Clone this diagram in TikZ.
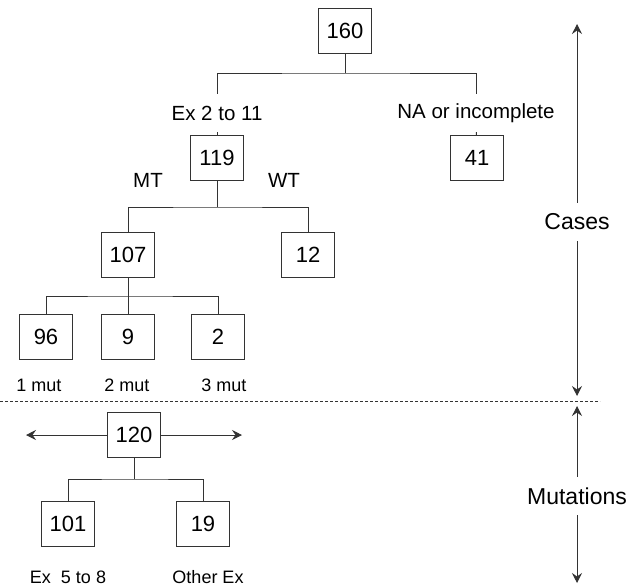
\documentclass[tikz,border=0pt]{standalone}
\usepackage{fontspec}
\setmainfont{Liberation Sans}
\usetikzlibrary{arrows.meta}

\tikzset{
    box/.style={draw=black!80, line width=1pt, minimum width=53pt, minimum height=45pt, inner sep=0pt, font=\fontsize{22}{26}\selectfont},
    lbl/.style={inner sep=0pt, minimum height=38pt, font=\fontsize{20.5}{24}\selectfont},
    side/.style={lbl, font=\fontsize{23}{27}\selectfont},
    small/.style={inner sep=0pt, font=\fontsize{18}{21}\selectfont},
    conn/.style={draw=black!80, line width=1pt},
    arr/.style={conn, -{Stealth[length=10pt, width=10pt, inset=3.5pt]}}
}

\begin{document}
\begin{tikzpicture}[x=1pt, y=-1pt]
        \useasboundingbox (0, 0) rectangle (636, 586);

        \node[box] at (345, 31)    (160) {160};
        \node[lbl] at (217, 113)   (ex)  {Ex 2 to 11};
        \node[lbl] at (476, 113)   (na)  {NA or incomplete};
        \node[box] at (217, 158)   (119) {119};
        \node[box] at (477, 158)   (41)  {41};
        \node[lbl] at (148, 180)   (mt)  {MT};
        \node[lbl] at (284, 180)   (wt)  {WT};
        \node[box] at (128, 255)   (107) {107};
        \node[box] at (308, 255)   (12)  {12};
        \node[box] at (46, 337)    (96)  {96};
        \node[box] at (128, 337)   (9)   {9};
        \node[box] at (218, 337)   (2)   {2};
        \node[small] at (39, 385)  (m1)  {1 mut};
        \node[small] at (127, 385) (m2)  {2 mut};
        \node[small] at (224, 385) (m3)  {3 mut};
        \node[box] at (134, 435)   (120) {120};
        \node[box] at (68, 524)    (101) {101};
        \node[box] at (203, 524)   (19)  {19};
        \node[small] at (68, 577)  (ex58)  {Ex\ \ 5 to 8};
        \node[small] at (208, 577) (other) {Other Ex};
        \node[side] at (577, 222)  (cases) {Cases};
        \node[side] at (577, 496)  (muts)  {Mutations};

        \coordinate (b1) at (345, 73);
        \coordinate (b2) at (217, 207);
        \coordinate (b3) at (128, 296);
        \coordinate (b4) at (134, 479);
        \coordinate (left)  at (26, 435);
        \coordinate (right) at (242, 435);
        \coordinate (top)   at (577, 24);
        \coordinate (midup) at (577, 396);
        \coordinate (middn) at (577, 406);
        \coordinate (bot)   at (577, 583);
        \coordinate (dl) at (0, 401);
        \coordinate (dr) at (600, 401);

        \draw[conn] (160) -- (b1);
        \draw[conn] (ex) |- (b1) -| (na);
        \draw[conn] (ex) -- (119);
        \draw[conn] (na) -- (41);
        \draw[conn] (119) -- (b2);
        \draw[conn] (107) |- (b2) -| (12);
        \draw[conn] (107) -- (b3);
        \draw[conn] (96) |- (b3) -| (2);
        \draw[conn] (b3) -- (9);
        \draw[conn] (120) -- (b4);
        \draw[conn] (101) |- (b4) -| (19);
        \draw[arr] (120) -- (left);
        \draw[arr] (120) -- (right);
        \draw[arr] (cases) -- (top);
        \draw[arr] (cases) -- (midup);
        \draw[arr] (muts) -- (middn);
        \draw[arr] (muts) -- (bot);
        \draw[conn, dash pattern=on 3pt off 2pt] (dl) -- (dr);
    \end{tikzpicture}
\end{document}
